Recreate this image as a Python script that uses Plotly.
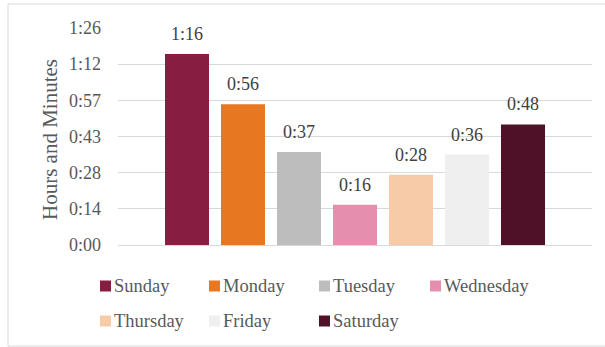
import plotly.graph_objects as go

# Average daily time per weekday, in minutes
days = ["Sunday", "Monday", "Tuesday", "Wednesday", "Thursday", "Friday", "Saturday"]
minutes = [76, 56, 37, 16, 28, 36, 48]
colors = ["#871E41", "#E87722", "#BDBDBD", "#E48FAD", "#F7CBA8", "#EFEFEF", "#4E1127"]

# Y axis ticks (every 1/100 of a day) and their h:mm labels
tick_minutes = [0, 14.4, 28.8, 43.2, 57.6, 72.0, 86.4]
tick_labels = ["0:00", "0:14", "0:28", "0:43", "0:57", "1:12", "1:26"]

W, H = 605, 347
L, R, T, B = 118, 13, 28, 102
plot_w = W - L - R
plot_h = H - T - B


def px_x(px):
    return (px - L) / plot_w


def px_y(py):
    return (H - B - py) / plot_h


def hmm(m):
    return f"{int(m) // 60}:{int(m) % 60:02d}"


serif = "Liberation Serif"

fig = go.Figure()
for i, (d, m, c) in enumerate(zip(days, minutes, colors)):
    fig.add_trace(go.Bar(
        x=[i], y=[m], name=d, marker=dict(color=c, line=dict(width=0)),
        width=0.786, showlegend=False, hoverinfo="skip",
    ))
    fig.add_annotation(
        x=i, y=m, xref="x", yref="y", text=hmm(m), showarrow=False,
        yanchor="bottom", yshift=8,
        font=dict(family=serif, size=18, color="#404040"),
    )

# Legend rows built from the same day/colour lists
legend_cols = [100, 209, 319, 430]
legend_rows = [286, 321]
for i, (d, c) in enumerate(zip(days, colors)):
    cx = legend_cols[i % 4]
    cy = legend_rows[i // 4]
    fig.add_shape(
        type="rect", xref="paper", yref="paper",
        x0=px_x(cx), x1=px_x(cx + 11), y0=px_y(cy + 5.5), y1=px_y(cy - 5.5),
        fillcolor=c, line=dict(width=0),
    )
    fig.add_annotation(
        x=px_x(cx + 12), y=px_y(cy), xref="paper", yref="paper",
        text=d, showarrow=False, xanchor="left", yanchor="middle",
        font=dict(family=serif, size=18.5, color="#595959"),
    )

# Axis title
fig.add_annotation(
    x=px_x(50), y=px_y(140), xref="paper", yref="paper",
    text="Hours and Minutes", textangle=-90, showarrow=False,
    xanchor="center", yanchor="middle",
    font=dict(family=serif, size=21, color="#595959"),
)

# Chart frame
fig.add_shape(
    type="rect", xref="paper", yref="paper",
    x0=px_x(8), x1=px_x(640), y0=px_y(346), y1=px_y(4),
    line=dict(color="#D9D9D9", width=1), fillcolor="rgba(0,0,0,0)", layer="below",
)

fig.update_layout(
    width=W, height=H,
    margin=dict(l=L, r=R, t=T, b=B, pad=0),
    paper_bgcolor="white", plot_bgcolor="white",
    barmode="overlay",
    showlegend=False,
    xaxis=dict(
        range=[-1.232, 7.232], showticklabels=False, showgrid=False,
        zeroline=False, showline=False, fixedrange=True,
    ),
    yaxis=dict(
        range=[0, 86.4], tickmode="array", tickvals=tick_minutes, ticktext=tick_labels,
        showgrid=True, gridcolor="#D9D9D9", gridwidth=1.3,
        zeroline=True, zerolinecolor="#D9D9D9", zerolinewidth=1.3,
        showline=False, ticks="", ticklabelstandoff=16,
        tickfont=dict(family=serif, size=18, color="#595959"),
    ),
)

fig.write_html("out.html")
